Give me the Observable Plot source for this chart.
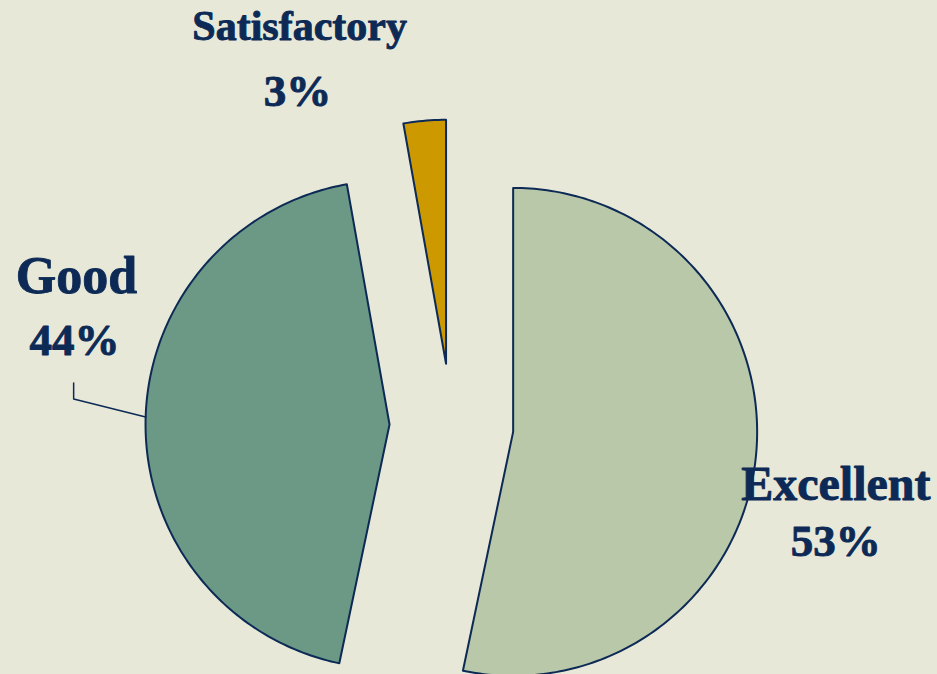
<!DOCTYPE html>
<html>
<head>
<meta charset="utf-8">
<script src="https://cdn.jsdelivr.net/npm/d3@7"></script>
<script src="https://cdn.jsdelivr.net/npm/@observablehq/plot@0.6"></script>
<style>
  html, body { margin: 0; padding: 0; background: #e8e8d9; }
  #chart { width: 937px; height: 674px; }
  svg { display: block; }
</style>
</head>
<body>
<div id="chart"></div>
<script>
// ---- data ----
const categories = ["Excellent", "Good", "Satisfactory"];
const shares = [53.3, 43.9, 2.8];
const pctLabels = ["53%", "44%", "3%"];

// ---- style / layout ----
const W = 937, H = 674;
const R = 244;               // pixels per data unit (pie radius)
const CX = 451, CY = 425;    // pie centre in pixels
const explode = 0.254;       // explosion distance, in radius units
const fills = {Excellent: "#b9c8a9", Good: "#6b9985", Satisfactory: "#cc9900"};
const navy = "#0c2a55";
const font = "'Liberation Serif', 'Times New Roman', serif";

// data space: x right, y up, 1 unit = pie radius
const xDomain = [-CX / R, (W - CX) / R];
const yDomain = [-(H - CY) / R, CY / R];

// build slices (angles clockwise from 12 o'clock)
const total = d3.sum(shares);
let acc = 0;
const slices = categories.map((c, i) => {
  const a0 = acc / total * 2 * Math.PI;
  acc += shares[i];
  const a1 = acc / total * 2 * Math.PI;
  const mid = (a0 + a1) / 2;
  const ox = explode * Math.sin(mid), oy = explode * Math.cos(mid);
  return {category: c, pct: pctLabels[i], a0, a1, mid, ox, oy};
});

function slicePoints(s) {
  const pts = [{x: s.ox, y: s.oy}];
  const n = Math.max(2, Math.ceil((s.a1 - s.a0) / (Math.PI / 180)));
  for (let k = 0; k <= n; k++) {
    const a = s.a0 + (s.a1 - s.a0) * k / n;
    pts.push({x: s.ox + Math.sin(a), y: s.oy + Math.cos(a)});
  }
  return pts;
}

// label nudges (pixels) relative to the slice's outer bisector point: [dx, dy, fontSize]
const labelNudge = {
  Excellent:    {name: [80, 43, 48], pct: [80, 99, 45]},
  Good:         {name: [-69, -128, 52], pct: [-71, -66, 45]},
  Satisfactory: {name: [-125, -81, 42], pct: [-127, -15, 45]}
};

const marks = [];
for (const s of slices) {
  marks.push(Plot.line(slicePoints(s), {
    x: "x", y: "y", curve: "linear-closed",
    fill: fills[s.category], stroke: navy, strokeWidth: 2, strokeLinejoin: "round"
  }));
}

// leader line for Good
const good = slices.find(s => s.category === "Good");
const gx = good.ox + Math.sin(good.mid + 0.015), gy = good.oy + Math.cos(good.mid + 0.015);
const leader = [
  {x: gx, y: gy},
  {x: gx - 72 / R, y: gy + 18 / R},
  {x: gx - 72 / R, y: gy + 34 / R}
];
marks.push(Plot.line(leader, {x: "x", y: "y", stroke: navy, strokeWidth: 1.5}));

for (const s of slices) {
  const bx = s.ox + Math.sin(s.mid), by = s.oy + Math.cos(s.mid);
  const nz = labelNudge[s.category];
  for (const [key, txt] of [["name", s.category], ["pct", s.pct]]) {
    const [dx, dy, fs] = nz[key];
    marks.push(Plot.text([{x: bx, y: by, t: txt}], {
      x: "x", y: "y", text: "t", dx, dy,
      textAnchor: "middle", lineAnchor: "bottom",
      fontSize: fs, fontWeight: "bold", fontFamily: font,
      fill: navy, stroke: navy, strokeWidth: 0.9
    }));
  }
}

const chart = Plot.plot({
  width: W, height: H,
  margin: 0,
  x: {domain: xDomain, axis: null},
  y: {domain: yDomain, axis: null},
  style: {background: "transparent", overflow: "visible"},
  marks
});
document.getElementById("chart").appendChild(chart);
</script>
</body>
</html>
